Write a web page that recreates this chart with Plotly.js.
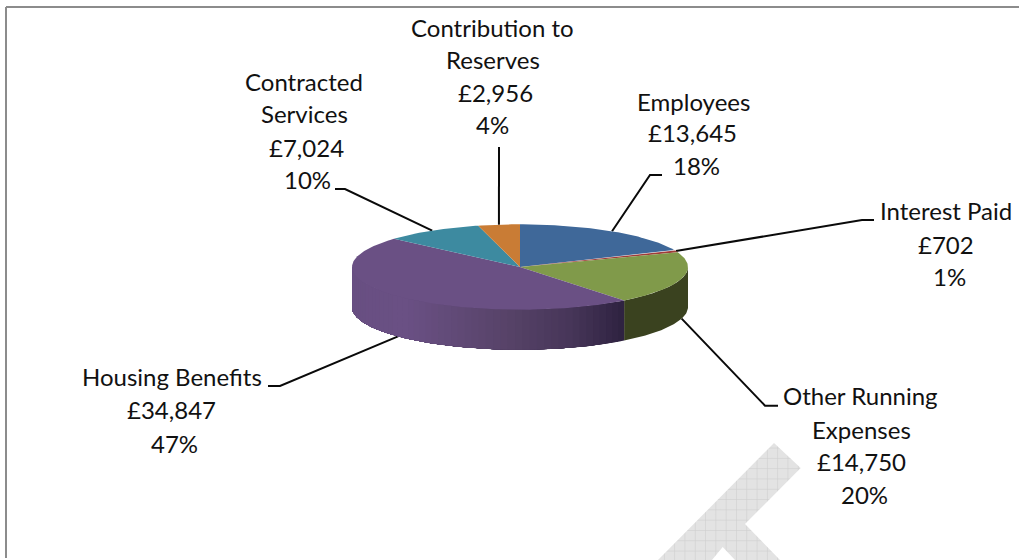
<!DOCTYPE html>
<html>
<head>
<meta charset="utf-8">
<script src="https://cdn.plot.ly/plotly-3.0.1.min.js"></script>
<style>html,body{margin:0;padding:0;background:#fff;overflow:hidden}</style>
</head>
<body>
<div id="chart" style="width:1019px;height:560px"></div>
<script>
// --- Data ---
const categories = ["Employees", "Interest Paid", "Other Running Expenses", "Housing Benefits", "Contracted Services", "Contribution to Reserves"];
const values = [13645, 702, 14750, 34847, 7024, 2956];
const labelNames = [["Employees"], ["Interest Paid"], ["Other Running", "Expenses"], ["Housing Benefits"], ["Contracted", "Services"], ["Contribution to", "Reserves"]];

// --- Styles / geometry (not data) ---
const topColors = ["#3f6899", "#a03c3a", "#809a4a", "#6a5084", "#3d8aa0", "#c97c35"];
const sideDark = "#3a421f";
const CX = 520, CY = 267, RX = 168, RY = 42.7, DEPTH = 40;
const FONT = "Lato, sans-serif", FONT_SIZE = 24, TEXT_SHIFT = -2;
const labelX = [[693, 692.5, 696], [946, 946, 949], [860, 861, 861, 864], [171.5, 171, 174], [304, 304, 306.5, 307], [492.5, 492.8, 495, 492.5]];
const labelY = [[103, 134, 167], [212, 246, 278], [397, 431, 463, 496], [378, 411, 445], [83, 115, 149, 181], [29, 61.5, 94, 126]];
const elbows = [[[650, 175], [662, 175]], [[862, 220], [874, 220]], [[765, 405.7], [778, 405.7]], [[280, 386], [268, 386]], [[345, 189], [335, 189]], [[499, 147]]];
const watermarkX = [774, 800.7, 745, 780, 735, 722.7, 712, 658];
const watermarkY = [443, 468, 524, 560, 560, 547, 560, 560];

// --- Derived ---
const total = values.reduce((a, b) => a + b, 0);
const rad = d => d * Math.PI / 180;
const px = t => CX + RX * Math.sin(rad(t));
const py = t => CY - RY * Math.cos(rad(t));
let cum = 0;
const starts = [], ends = [];
values.forEach(v => { starts.push(cum); cum += v / total * 360; ends.push(cum); });
const traces = [];
const poly = (x, y, color, width) => ({
  type: "scatter", mode: "lines", x, y, fill: "toself", fillcolor: color,
  line: {color, width: width || 0}, hoverinfo: "skip", showlegend: false
});

// watermark
traces.push({
  type: "scatter", mode: "lines", x: watermarkX.concat(watermarkX[0]), y: watermarkY.concat(watermarkY[0]),
  fill: "toself", fillcolor: "#e2e2e2", line: {width: 0, color: "#e2e2e2"},
  fillpattern: {shape: "+", size: 10.3, solidity: 0.1, fgcolor: "#cbcbcb", bgcolor: "#e3e3e3"},
  hoverinfo: "skip", showlegend: false
});

// leader lines: start at the rim at the slice's mid-angle
values.forEach((v, i) => {
  const mid = (starts[i] + ends[i]) / 2;
  const front = mid > 90 && mid < 270;
  const xs = [px(mid)], ys = [py(mid) + (front ? DEPTH : 0)];
  elbows[i].forEach(p => { xs.push(p[0]); ys.push(p[1]); });
  traces.push({type: "scatter", mode: "lines", x: xs, y: ys, line: {color: "#0a0a0a", width: 2}, hoverinfo: "skip", showlegend: false});
});

// side wall, visible from 90 to 270 degrees
function lerp(a, b, f) { return a.map((c, i) => Math.round(c + (b[i] - c) * f)); }
function sideColor(x) {
  const stops = [[352, [104, 79, 130]], [407, [106, 80, 132]], [507, [87, 67, 104]], [573, [70, 53, 88]], [623, [46, 34, 64]]];
  for (let k = 0; k < stops.length - 1; k++) {
    if (x <= stops[k + 1][0]) {
      const f = Math.max(0, (x - stops[k][0]) / (stops[k + 1][0] - stops[k][0]));
      return "rgb(" + lerp(stops[k][1], stops[k + 1][1], f).join(",") + ")";
    }
  }
  return "rgb(46,34,64)";
}
function wall(t0, t1, color) {
  const xs = [], ys = [];
  const n = Math.max(1, Math.ceil(t1 - t0));
  for (let j = 0; j <= n; j++) { const t = t0 + (t1 - t0) * j / n; xs.push(px(t)); ys.push(py(t)); }
  for (let j = n; j >= 0; j--) { const t = t0 + (t1 - t0) * j / n; xs.push(px(t)); ys.push(py(t) + DEPTH); }
  xs.push(xs[0]); ys.push(ys[0]);
  traces.push(poly(xs, ys, color, 0));
}
wall(90, ends[2], sideDark);
// Each band runs on to the far end of the wall and the next one paints over it, so no seams show
const bandStep = 2.5;
for (let t = ends[2]; t < 270; t += bandStep) {
  wall(t, 270, sideColor((px(t) + px(Math.min(270, t + bandStep))) / 2));
}

// top face slices
values.forEach((v, i) => {
  const xs = [CX], ys = [CY];
  const n = Math.max(2, Math.ceil(ends[i] - starts[i]));
  for (let j = 0; j <= n; j++) {
    const t = starts[i] + (ends[i] - starts[i]) * j / n;
    xs.push(px(t)); ys.push(py(t));
  }
  xs.push(CX); ys.push(CY);
  traces.push(poly(xs, ys, topColors[i], 0));
});

// labels, one annotation for each line of text
const annotations = [];
values.forEach((v, i) => {
  const lines = labelNames[i].concat(["£" + v.toLocaleString("en-GB"), Math.round(v / total * 100) + "%"]);
  lines.forEach((text, k) => annotations.push({
    x: labelX[i][k], y: labelY[i][k] + TEXT_SHIFT, xref: "x", yref: "y", text, showarrow: false,
    xanchor: "center", yanchor: "middle", font: {family: FONT, size: FONT_SIZE, color: "#111111"}
  }));
});

const frame = {type: "line", xref: "x", yref: "y", line: {color: "#8c8c8c", width: 2}};
const layout = {
  width: 1019, height: 560, autosize: false,
  margin: {l: 0, r: 0, t: 0, b: 0},
  paper_bgcolor: "#ffffff", plot_bgcolor: "#ffffff",
  showlegend: false, hovermode: false,
  xaxis: {range: [0, 1019], visible: false, fixedrange: true},
  yaxis: {range: [560, 0], visible: false, fixedrange: true},
  shapes: [
    Object.assign({}, frame, {x0: 6, x1: 6, y0: 7, y1: 558}),
    Object.assign({}, frame, {x0: 6, x1: 1019, y0: 7, y1: 7})
  ],
  annotations
};
Plotly.newPlot("chart", traces, layout, {displayModeBar: false, staticPlot: true});
</script>
</body>
</html>
